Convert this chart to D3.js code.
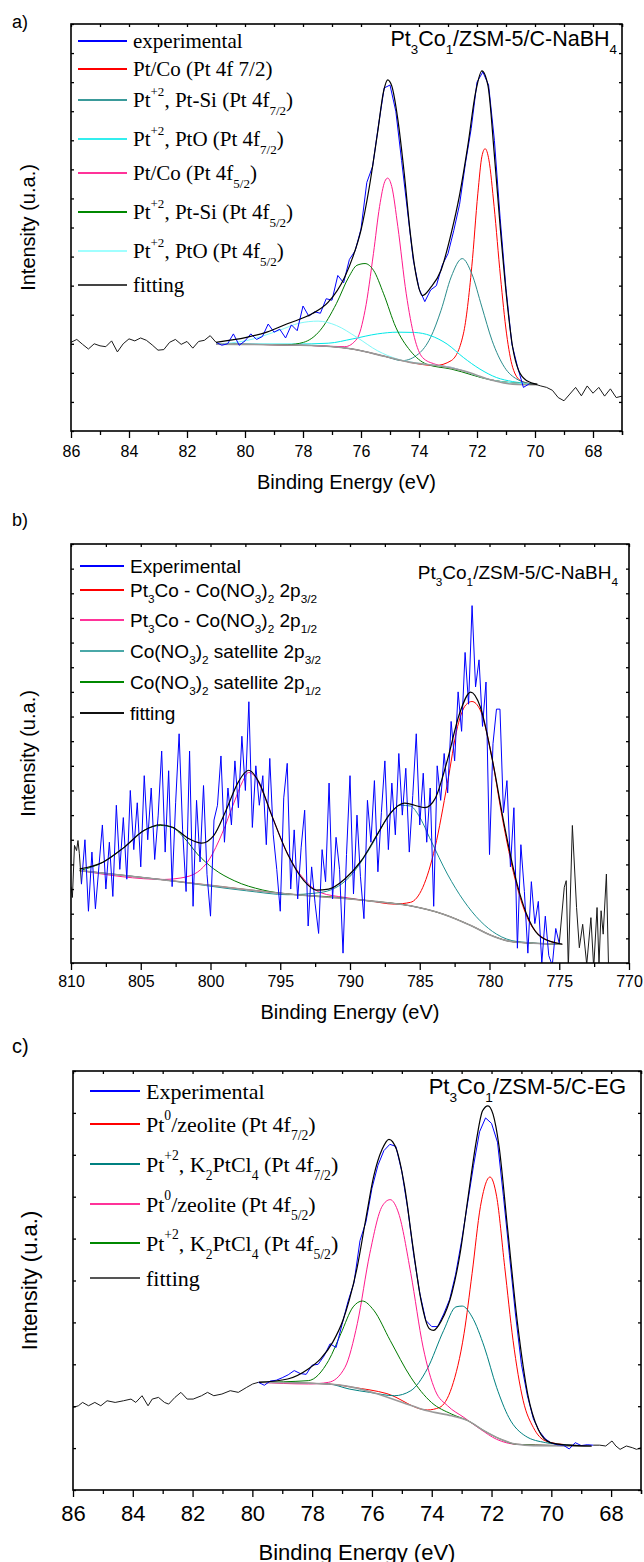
<!DOCTYPE html>
<html>
<head>
<meta charset="utf-8">
<script src="https://cdn.jsdelivr.net/npm/d3@7"></script>
<style>
body { margin: 0; background: #fff; }
svg { display: block; }
</style>
</head>
<body>
<svg id="fig" width="644" height="1562"></svg>
<script>
// ---------------- panel a : Pt 4f, Pt3Co1/ZSM-5/C-NaBH4 ----------------
var aLabels = ["experimental", "Pt/Co (Pt 4f 7/2)", "Pt^{+2}, Pt-Si (Pt 4f_{7/2})", "Pt^{+2}, PtO (Pt 4f_{7/2})",
               "Pt/Co (Pt 4f_{5/2})", "Pt^{+2}, Pt-Si (Pt 4f_{5/2})", "Pt^{+2}, PtO (Pt 4f_{5/2})", "fitting"];
var aColors = ["#0000ff", "#ff0000", "#3a9a9a", "#33eeee", "#ff3399", "#008800", "#a0ffff", "#444444"];
var aXTicks = [86, 84, 82, 80, 78, 76, 74, 72, 70, 68];

// raw survey outside the fit window (0.2 eV steps)
var aRawL = [3.05, 3.15, 2.98, 2.82, 3.0, 2.93, 2.9, 3.1, 2.72, 3.0, 3.17, 3.1, 3.2, 3.12, 2.96, 2.78, 2.8, 3.05, 3.15, 2.98, 3.08, 2.85, 3.08, 3.12, 3.28, 3.05]; // 86.0 -> 81.0
var aRawR = [1.62, 1.61, 1.55, 1.5, 1.4, 1.15, 1.04, 1.27, 1.5, 1.21, 1.55, 1.3, 1.5, 1.2, 1.45, 1.15, 1.2]; // 70.2 -> 67.0
var aExp = [3.05, 2.95, 3.0, 3.34, 2.95, 3.1, 3.34, 3.15, 3.25, 3.68, 3.4, 3.5, 3.2, 3.65, 3.45, 4.3,
            3.95, 4.1, 4.05, 4.55, 4.5, 5.35, 5.1, 5.9, 6.2, 6.95, 8.55, 9.1, 10.5, 11.8, 11.9,
            11.0, 9.3, 7.6, 5.9, 4.9, 4.45, 4.85, 5.0, 5.7, 6.1, 6.9, 7.8, 9.2, 10.4, 12.0,
            12.35, 11.9, 10.0, 7.3, 4.9, 3.0, 2.2, 1.5, 1.62]; // 81.0 -> 70.2

var aBase = [[81.0, 2.99], [77.7, 2.94], [76.3, 2.82], [75.15, 2.56], [74.3, 2.36], [73.17, 2.22], [72.47, 2.07], [71.48, 1.75], [70.77, 1.61], [69.92, 1.59]];
var aRed = [[81.0, 2.99], [77.7, 2.94], [76.3, 2.82], [75.15, 2.56], [74.3, 2.36], [73.45, 2.25], [72.89, 2.42], [72.47, 3.34], [72.18, 5.65], [71.97, 8.18],
            [71.83, 9.45], [71.72, 9.71], [71.59, 9.33], [71.41, 7.72], [71.19, 5.3], [70.98, 3.34], [70.77, 2.19], [70.49, 1.73], [70.06, 1.61]];
var aTeal = [[81.0, 2.99], [77.7, 2.94], [76.3, 2.82], [75.15, 2.56], [74.58, 2.42], [74.02, 2.65], [73.6, 3.22], [73.24, 4.15], [72.89, 5.3], [72.51, 5.93],
             [72.18, 5.41], [71.83, 4.26], [71.48, 3.11], [71.05, 2.19], [70.62, 1.78], [70.06, 1.61]];
var aCyan = [[81.0, 2.99], [78.26, 2.99], [77.13, 3.02], [76.28, 3.17], [75.43, 3.34], [74.73, 3.4], [74.16, 3.39], [73.6, 3.28], [73.03, 2.99], [72.47, 2.53],
             [71.9, 2.13], [71.33, 1.84], [70.77, 1.7], [70.06, 1.61]];
var aPink = [[81.0, 2.99], [77.7, 2.94], [76.56, 2.9], [76.14, 3.17], [75.86, 4.15], [75.57, 6.11], [75.36, 7.72], [75.18, 8.58], [75.08, 8.7], [74.94, 8.41],
             [74.73, 7.03], [74.44, 4.72], [74.16, 3.22], [73.88, 2.53], [73.45, 2.3], [72.89, 2.19], [71.48, 1.75], [70.06, 1.61]];
var aGreen = [[81.0, 2.99], [78.54, 2.97], [77.98, 3.05], [77.41, 3.46], [76.85, 4.38], [76.42, 5.3], [76.14, 5.7], [75.86, 5.76], [75.57, 5.53], [75.22, 4.72],
              [74.8, 3.57], [74.3, 2.76], [73.74, 2.3], [72.89, 2.13], [71.48, 1.75], [70.06, 1.61]];
var aCyan2 = [[81.0, 2.99], [79.95, 3.11], [78.82, 3.46], [78.12, 3.71], [77.48, 3.78], [76.85, 3.63], [76.14, 3.22], [75.43, 2.76], [74.73, 2.47], [74.02, 2.33],
              [72.89, 2.19], [71.48, 1.75], [70.06, 1.61]];
var aFit = [[81.0, 3.05], [79.95, 3.22], [79.25, 3.4], [78.54, 3.69], [77.69, 4.03], [77.13, 4.43], [76.56, 5.3], [76.28, 5.99], [76.0, 6.91], [75.71, 8.41],
            [75.43, 10.25], [75.22, 11.69], [75.08, 12.08], [74.94, 11.87], [74.73, 10.72], [74.51, 8.87], [74.3, 6.8], [74.09, 5.3], [73.88, 4.66], [73.6, 4.93],
            [73.24, 5.53], [72.89, 6.8], [72.61, 8.07], [72.32, 9.79], [72.04, 11.69], [71.83, 12.39], [71.62, 11.87], [71.41, 9.6], [71.19, 6.9], [70.98, 4.6],
            [70.77, 2.88], [70.56, 2.07], [70.28, 1.73], [69.92, 1.61]];

// ---------------- panel b : Co 2p, Pt3Co1/ZSM-5/C-NaBH4 ----------------
var bLabels = ["Experimental", "Pt_{3}Co - Co(NO_{3})_{2} 2p_{3/2}", "Pt_{3}Co - Co(NO_{3})_{2} 2p_{1/2}",
               "Co(NO_{3})_{2} satellite 2p_{3/2}", "Co(NO_{3})_{2} satellite 2p_{1/2}", "fitting"];
var bColors = ["#0000ff", "#ff0000", "#ff3399", "#4aa8a8", "#008800", "#111111"];
var bXTicks = [810, 805, 800, 795, 790, 785, 780, 775, 770];

var bRawL = [[810.0, 3.1], [809.9, 2.66], [809.75, 4.77], [809.6, 4.56], [809.5, 4.97], [809.4, 4.43], [809.25, 3.2]];
var bRawR = [[775.0, 0.8], [774.64, 3.07], [774.5, 3.34], [774.35, -0.2], [774.06, 5.58], [773.76, 2.25], [773.56, 0.62], [773.32, 1.57], [773.03, -0.06],
             [772.73, 1.84], [772.53, -0.2], [772.29, 2.25], [772.15, -0.06], [772.0, 2.12], [771.85, 1.17], [771.62, 3.61], [771.47, -0.06]];
var bExp = [3.2, 5.0, 2.1, 4.5, 2.2, 3.9, 5.6, 3.0, 4.9, 2.7, 6.4, 3.8, 5.9, 3.4, 7.0, 4.6,
            6.5, 3.9, 7.6, 5.0, 7.1, 4.2, 6.0, 8.6, 4.5, 7.8, 3.1, 6.5, 9.3, 5.4, 2.9, 8.6,
            2.3, 6.6, 4.1, 7.2, 3.6, 1.9, 5.8, 6.4, 8.4, 4.9, 7.1, 5.6, 8.2, 6.3, 9.2, 7.0,
            10.6, 5.5, 8.0, 6.4, 7.6, 4.8, 8.3, 5.2, 3.8, 2.1, 6.7, 8.1, 3.0, 5.4, 2.6, 4.7,
            6.2, 1.5, 3.9, 2.4, 1.2, 4.6, 3.3, 7.3, 2.6, 5.1, 3.8, 0.4, 4.4, 7.6, 2.8, 6.0,
            3.5, 1.8, 6.6, 4.9, 7.4, 3.7, 6.1, 8.2, 4.6, 7.3, 5.2, 8.5, 6.0, 7.9, 4.5, 6.8,
            9.3, 5.6, 7.7, 4.9, 7.1, 2.3, 8.0, 6.6, 8.5, 6.9, 9.8, 8.2, 11.0, 9.4, 12.6, 10.5,
            14.5, 11.2, 12.3, 9.6, 11.4, 4.4, 8.9, 10.3, 10.3, 6.1, 7.4, 3.9, 6.3, 0.6, 4.8, 2.9,
            0.4, 3.3, 1.6, 2.5, 0.0, 1.9, 0.3, -0.1, 1.4, 0.8]; // 809.25 -> 775.0, 0.25 eV

var bBase = [[809.38, 3.75], [803.3, 3.37], [794.48, 2.8], [788.6, 2.52], [785.67, 2.32], [783.31, 1.98], [781.26, 1.5], [779.79, 1.1], [778.32, 0.86], [774.79, 0.76]];
var bRed = [[809.38, 3.75], [803.3, 3.37], [794.48, 2.8], [788.6, 2.52], [786.84, 2.39], [785.67, 2.46], [784.78, 3.07], [783.9, 4.7], [783.02, 7.28], [782.29, 9.59],
            [781.7, 10.47], [781.26, 10.61], [780.67, 10.27], [779.93, 8.64], [779.05, 5.79], [778.17, 3.41], [777.29, 1.84], [776.26, 1.06], [774.79, 0.76]];
var bPink = [[809.38, 3.75], [803.3, 3.39], [802.12, 3.45], [800.95, 3.68], [800.07, 4.22], [799.18, 5.24], [798.3, 6.53], [797.71, 7.35], [797.27, 7.73], [796.83, 7.58],
             [796.25, 6.94], [795.51, 5.85], [794.48, 4.43], [793.31, 3.41], [792.13, 2.86], [790.37, 2.66], [788.6, 2.52], [785.67, 2.32], [783.31, 1.98], [781.26, 1.5],
             [779.79, 1.1], [778.32, 0.86], [774.79, 0.76]];
var bTeal = [[809.38, 3.75], [803.3, 3.37], [797.42, 2.93], [794.48, 2.77], [792.13, 2.86], [790.07, 3.47], [788.6, 4.63], [787.43, 5.79], [786.4, 6.4], [785.67, 6.37],
             [785.08, 5.99], [784.2, 4.97], [783.02, 3.61], [781.84, 2.52], [780.67, 1.71], [779.49, 1.17], [778.02, 0.87], [774.79, 0.76]];
var bGreen = [[809.38, 3.75], [807.71, 4.09], [806.24, 4.67], [804.77, 5.38], [803.59, 5.58], [802.71, 5.49], [801.83, 5.04], [800.95, 4.43], [799.77, 3.82], [798.3, 3.34],
              [796.25, 2.96], [793.89, 2.77], [791.54, 2.69], [788.6, 2.52], [785.67, 2.32], [783.31, 1.98], [781.26, 1.5], [779.79, 1.1], [778.32, 0.86], [774.79, 0.76]];
var bFit = [[809.38, 3.82], [807.71, 4.09], [806.24, 4.67], [804.77, 5.38], [803.59, 5.61], [802.71, 5.51], [801.54, 5.04], [800.65, 4.86], [799.77, 5.17], [798.89, 6.19],
            [798.0, 7.35], [797.27, 7.82], [796.54, 7.35], [795.66, 6.06], [794.48, 4.43], [793.31, 3.34], [792.42, 2.96], [791.54, 3.0], [790.37, 3.41], [789.19, 4.15],
            [788.02, 5.24], [787.13, 6.06], [786.11, 6.49], [785.37, 6.4], [784.64, 6.3], [783.9, 6.67], [783.02, 8.23], [782.14, 10.13], [781.35, 10.99], [780.67, 10.41],
            [779.79, 8.23], [778.91, 5.51], [778.02, 3.2], [777.14, 1.71], [776.26, 1.03], [774.79, 0.76]];

// ---------------- panel c : Pt 4f, Pt3Co1/ZSM-5/C-EG ----------------
var cLabels = ["Experimental", "Pt^{0}/zeolite (Pt 4f_{7/2})", "Pt^{+2}, K_{2}PtCl_{4} (Pt 4f_{7/2})",
               "Pt^{0}/zeolite (Pt 4f_{5/2})", "Pt^{+2}, K_{2}PtCl_{4} (Pt 4f_{5/2})", "fitting"];
var cColors = ["#0000ff", "#ff0000", "#008080", "#ff3399", "#008800", "#555555"];
var cXTicks = [86, 84, 82, 80, 78, 76, 74, 72, 70, 68];

var cRawL = [[86.0, 1.97], [85.82, 2.01], [85.68, 2.09], [85.48, 2.01], [85.27, 2.09], [85.07, 2.01], [84.86, 2.13], [84.59, 2.09], [84.31, 2.13], [84.06, 2.17],
             [83.9, 2.09], [83.69, 2.25], [83.49, 2.01], [83.35, 2.17], [83.14, 2.21], [82.94, 2.09], [82.8, 2.05], [82.59, 2.21], [82.39, 2.33], [82.18, 2.17],
             [81.98, 2.17], [81.7, 2.25], [81.5, 2.33], [81.29, 2.25], [81.02, 2.29], [80.74, 2.37], [80.47, 2.33], [80.19, 2.45], [79.99, 2.53], [79.8, 2.57]];
var cRawR = [[68.6, 1.07], [68.38, 1.07], [68.18, 1.05], [67.97, 1.17], [67.84, 1.05], [67.7, 0.97], [67.49, 1.05], [67.29, 1.01], [67.15, 0.97], [67.0, 1.01]];
var cExp = [2.57, 2.5, 2.6, 2.62, 2.68, 2.75, 2.85, 2.78, 2.76, 2.98, 3.0, 3.2, 3.49, 3.4, 3.95,
            4.5, 4.95, 5.95, 6.4, 7.2, 7.75, 8.1, 8.25, 8.2, 7.6, 6.7, 5.6, 4.7, 4.05, 3.9,
            3.9, 4.2, 4.55, 5.15, 5.95, 6.85, 7.75, 8.55, 8.88, 8.75, 8.3, 7.0, 5.6, 4.2, 3.0,
            2.25, 1.7, 1.4, 1.22, 1.12, 1.08, 1.07, 0.98, 1.13, 1.06, 1.08, 1.07]; // 79.8 -> 68.6

var cBase = [[79.78, 2.57], [77.45, 2.53], [76.63, 2.45], [75.8, 2.29], [74.98, 2.09], [74.15, 1.89], [73.33, 1.77], [72.78, 1.65], [72.24, 1.41], [71.69, 1.21],
             [71.15, 1.09], [70.6, 1.06], [68.66, 1.05]];
var cRed = [[79.78, 2.57], [77.45, 2.53], [76.63, 2.45], [75.5, 2.3], [74.15, 1.91], [73.74, 1.97], [73.33, 2.45], [72.92, 3.73], [72.65, 5.17], [72.37, 6.77],
            [72.05, 7.47], [71.83, 7.01], [71.56, 5.33], [71.28, 3.57], [70.94, 2.13], [70.6, 1.49], [70.19, 1.17], [69.5, 1.08], [68.66, 1.05]];
var cTeal = [[79.78, 2.57], [77.45, 2.53], [76.76, 2.41], [76.07, 2.33], [75.25, 2.25], [74.7, 2.37], [74.15, 2.89], [73.6, 3.81], [73.19, 4.37], [72.98, 4.39],
             [72.65, 4.13], [72.24, 3.41], [71.83, 2.45], [71.42, 1.73], [70.87, 1.29], [70.19, 1.13], [69.5, 1.08], [68.66, 1.05]];
var cPink = [[79.78, 2.57], [78.13, 2.53], [77.45, 2.57], [76.9, 2.93], [76.49, 3.97], [76.07, 5.65], [75.66, 6.77], [75.39, 6.93], [75.11, 6.61], [74.7, 5.17],
             [74.29, 3.41], [73.88, 2.37], [73.47, 2.01], [72.92, 1.73], [72.37, 1.45], [71.83, 1.21], [71.15, 1.09], [68.66, 1.05]];
var cGreen = [[79.78, 2.57], [78.13, 2.61], [77.45, 3.09], [77.04, 3.73], [76.63, 4.37], [76.32, 4.51], [75.94, 4.29], [75.39, 3.57], [74.7, 2.69], [74.01, 2.09],
              [73.33, 1.81], [72.78, 1.65], [72.24, 1.41], [71.69, 1.21], [71.15, 1.09], [68.66, 1.05]];
var cFit = [[79.78, 2.57], [78.82, 2.65], [78.13, 2.89], [77.72, 3.13], [77.31, 3.53], [76.97, 4.05], [76.76, 4.53], [76.49, 5.33], [76.21, 6.45], [75.94, 7.49],
            [75.66, 8.13], [75.43, 8.37], [75.18, 8.13], [74.91, 7.25], [74.63, 5.81], [74.36, 4.53], [74.08, 3.85], [73.94, 3.81], [73.67, 4.05], [73.33, 4.69],
            [73.05, 5.65], [72.78, 7.01], [72.5, 8.37], [72.3, 9.05], [72.12, 9.17], [71.95, 8.97], [71.75, 8.21], [71.47, 6.29], [71.13, 3.97], [70.79, 2.29],
            [70.44, 1.45], [70.03, 1.13], [69.48, 1.07], [68.66, 1.05]];

// ------------------------------------------------------------------------
var SANS = "Arial, 'Liberation Sans', sans-serif";
var SERIF = "'Times New Roman', 'Liberation Serif', serif";

var svg = d3.select("#fig");
svg.append("rect").attr("width", 644).attr("height", 1562).attr("fill", "#fff");

function grid(start, step, n) {
    return d3.range(n).map(function (i) { return +(start - i * step).toFixed(2); });
}

// text with ^{sup} and _{sub} markup
function richText(sel, str, size) {
    var parts = str.split(/(\^\{[^}]*\}|_\{[^}]*\})/).filter(function (s) { return s.length; });
    var off = 0;
    parts.forEach(function (p) {
        var shift = 0, fs = size, t = p;
        if (p.indexOf("^{") === 0) { shift = -0.55 * size; fs = 0.62 * size; t = p.slice(2, -1); }
        else if (p.indexOf("_{") === 0) { shift = 0.36 * size; fs = 0.62 * size; t = p.slice(2, -1); }
        sel.append("tspan").attr("dy", shift - off).style("font-size", fs + "px").text(t);
        off = shift;
    });
}

function drawPanel(cfg) {
    var x = d3.scaleLinear().domain(cfg.xDomain).range([cfg.left, cfg.right]);
    var y = d3.scaleLinear().domain([0, cfg.yMax]).range([cfg.bottom, cfg.top]);
    var g = svg.append("g");

    svg.append("clipPath").attr("id", "clip-" + cfg.id).append("rect")
        .attr("x", cfg.left).attr("y", cfg.top)
        .attr("width", cfg.right - cfg.left).attr("height", cfg.bottom - cfg.top);
    var plot = g.append("g").attr("clip-path", "url(#clip-" + cfg.id + ")");

    var smooth = d3.line().x(function (d) { return x(d[0]); }).y(function (d) { return y(d[1]); }).curve(d3.curveMonotoneX);
    var raw = d3.line().x(function (d) { return x(d[0]); }).y(function (d) { return y(d[1]); });

    cfg.series.forEach(function (s) {
        plot.append("path")
            .attr("d", (s.smooth ? smooth : raw)(s.data))
            .attr("fill", "none")
            .attr("stroke", s.color)
            .attr("stroke-width", s.width || 1)
            .attr("stroke-linejoin", "round");
    });

    // axes
    var minor = d3.range(cfg.xDomain[0] - cfg.minorStep, cfg.xDomain[1] - 0.01, -cfg.minorStep * 2);
    if (cfg.xDomain[1] % (cfg.minorStep * 2) !== cfg.xDomain[0] % (cfg.minorStep * 2)) minor.push(cfg.xDomain[1]);
    var allX = cfg.xTicks.concat(minor);
    var yTicks = d3.range(0, cfg.yMax + 1);

    var bottom = g.append("g").attr("transform", "translate(0," + cfg.bottom + ")")
        .call(d3.axisBottom(x).tickValues(cfg.xTicks).tickSize(7).tickPadding(cfg.tickPad).tickFormat(d3.format("d")));
    bottom.selectAll("text").style("font-family", SANS).style("font-size", cfg.tickFont + "px").attr("fill", "#000");
    g.append("g").attr("transform", "translate(0," + cfg.bottom + ")")
        .call(d3.axisBottom(x).tickValues(minor).tickSize(4).tickFormat(""));
    g.append("g").attr("transform", "translate(0," + cfg.top + ")")
        .call(d3.axisTop(x).tickValues(allX).tickSize(-3).tickFormat(""));
    g.append("g").attr("transform", "translate(" + cfg.left + ",0)")
        .call(d3.axisLeft(y).tickValues(yTicks).tickSize(-3).tickFormat(""));
    g.append("g").attr("transform", "translate(" + cfg.right + ",0)")
        .call(d3.axisRight(y).tickValues(yTicks).tickSize(-3).tickFormat(""));
    g.selectAll(".domain").remove();
    g.selectAll(".tick line").attr("stroke", "#000").attr("stroke-width", 1.3);

    g.append("rect")
        .attr("x", cfg.left).attr("y", cfg.top)
        .attr("width", cfg.right - cfg.left).attr("height", cfg.bottom - cfg.top)
        .attr("fill", "none").attr("stroke", "#000").attr("stroke-width", 1.6);

    // titles
    g.append("text")
        .attr("x", (cfg.left + cfg.right) / 2).attr("y", cfg.titleY)
        .attr("text-anchor", "middle")
        .style("font-family", SANS).style("font-size", cfg.titleFont + "px")
        .text("Binding Energy (eV)");
    g.append("text")
        .attr("transform", "translate(" + cfg.yTitleX + "," + (cfg.top + cfg.bottom) / 2 + ") rotate(-90)")
        .attr("text-anchor", "middle")
        .style("font-family", SANS).style("font-size", cfg.titleFont + "px")
        .text("Intensity (u.a.)");
    g.append("text")
        .attr("x", 12).attr("y", cfg.letterY)
        .style("font-family", SANS).style("font-size", cfg.letterFont + "px")
        .text(cfg.letter);

    var note = g.append("text")
        .attr("x", cfg.noteX).attr("y", cfg.noteY)
        .attr("text-anchor", "end")
        .style("font-family", SANS).style("font-size", cfg.noteFont + "px")
        .style("white-space", "pre");
    richText(note, cfg.note, cfg.noteFont);

    // legend
    cfg.legend.labels.forEach(function (lab, i) {
        var ly = cfg.legend.rows[i];
        g.append("line")
            .attr("x1", cfg.legend.x1).attr("x2", cfg.legend.x2)
            .attr("y1", ly).attr("y2", ly)
            .attr("stroke", cfg.legend.colors[i]).attr("stroke-width", 1.8);
        var t = g.append("text")
            .attr("x", cfg.legend.tx).attr("y", ly + cfg.legend.font * 0.35)
            .style("font-family", cfg.legend.family).style("font-size", cfg.legend.font + "px")
            .style("white-space", "pre");
        richText(t, lab, cfg.legend.font);
    });
}

drawPanel({
    id: "a", letter: "a)", letterY: 28, letterFont: 18,
    left: 71, right: 622, top: 24, bottom: 431,
    xDomain: [86, 67], yMax: 14, xTicks: aXTicks, minorStep: 1,
    tickFont: 16, tickPad: 8, titleFont: 20, titleY: 489, yTitleX: 35,
    note: "Pt_{3}Co_{1}/ZSM-5/C-NaBH_{4}", noteX: 617, noteY: 46, noteFont: 21.5,
    legend: { labels: aLabels, colors: aColors, rows: [41, 69, 100, 139, 173, 212, 251, 285],
              x1: 78, x2: 127, tx: 133, font: 21, family: SERIF },
    series: [
        { data: aRed, color: "#ff0000", smooth: true },
        { data: aTeal, color: "#2a8c8c", smooth: true },
        { data: aCyan, color: "#00e8e8", smooth: true },
        { data: aPink, color: "#ff1a8c", smooth: true },
        { data: aGreen, color: "#007a00", smooth: true },
        { data: aCyan2, color: "#80f8f8", smooth: true },
        { data: aBase, color: "#9a9a9a", smooth: true, width: 1.6 },
        { data: d3.zip(grid(86.0, 0.2, aRawL.length), aRawL), color: "#1a1a1a" },
        { data: d3.zip(grid(70.2, 0.2, aRawR.length), aRawR), color: "#1a1a1a" },
        { data: d3.zip(grid(81.0, 0.2, aExp.length), aExp), color: "#0000ff" },
        { data: aFit, color: "#000000", smooth: true, width: 1.2 }
    ]
});

drawPanel({
    id: "b", letter: "b)", letterY: 526, letterFont: 18,
    left: 71, right: 629, top: 544, bottom: 963,
    xDomain: [810, 770], yMax: 17, xTicks: bXTicks, minorStep: 2.5,
    tickFont: 16, tickPad: 6, titleFont: 20, titleY: 1019, yTitleX: 35,
    note: "Pt_{3}Co_{1}/ZSM-5/C-NaBH_{4}", noteX: 618, noteY: 579, noteFont: 19,
    legend: { labels: bLabels, colors: bColors, rows: [566, 590, 620, 651, 682, 713],
              x1: 80, x2: 124, tx: 130, font: 19, family: SANS },
    series: [
        { data: bRed, color: "#ff0000", smooth: true },
        { data: bPink, color: "#ff1a8c", smooth: true },
        { data: bTeal, color: "#1f9090", smooth: true },
        { data: bGreen, color: "#007a00", smooth: true },
        { data: bBase, color: "#9a9a9a", smooth: true, width: 1.6 },
        { data: bRawL, color: "#1a1a1a" },
        { data: bRawR, color: "#1a1a1a" },
        { data: d3.zip(grid(809.25, 0.25, bExp.length), bExp), color: "#0000ff" },
        { data: bFit, color: "#000000", smooth: true, width: 1.2 }
    ]
});

drawPanel({
    id: "c", letter: "c)", letterY: 1053, letterFont: 20,
    left: 73, right: 641, top: 1071, bottom: 1490,
    xDomain: [86, 67], yMax: 10, xTicks: cXTicks, minorStep: 1,
    tickFont: 22, tickPad: 8, titleFont: 22, titleY: 1560, yTitleX: 37,
    note: "Pt_{3}Co_{1}/ZSM-5/C-EG", noteX: 626, noteY: 1094, noteFont: 22,
    legend: { labels: cLabels, colors: cColors, rows: [1091, 1124, 1164, 1204, 1243, 1278],
              x1: 90, x2: 140, tx: 146, font: 22, family: SERIF },
    series: [
        { data: cRed, color: "#ff0000", smooth: true },
        { data: cTeal, color: "#008080", smooth: true },
        { data: cPink, color: "#ff1a8c", smooth: true },
        { data: cGreen, color: "#007a00", smooth: true },
        { data: cBase, color: "#9a9a9a", smooth: true, width: 1.6 },
        { data: cRawL, color: "#1a1a1a" },
        { data: cRawR, color: "#1a1a1a" },
        { data: d3.zip(grid(79.8, 0.2, cExp.length), cExp), color: "#0000ff" },
        { data: cFit, color: "#000000", smooth: true, width: 1.2 }
    ]
});
</script>
</body>
</html>
